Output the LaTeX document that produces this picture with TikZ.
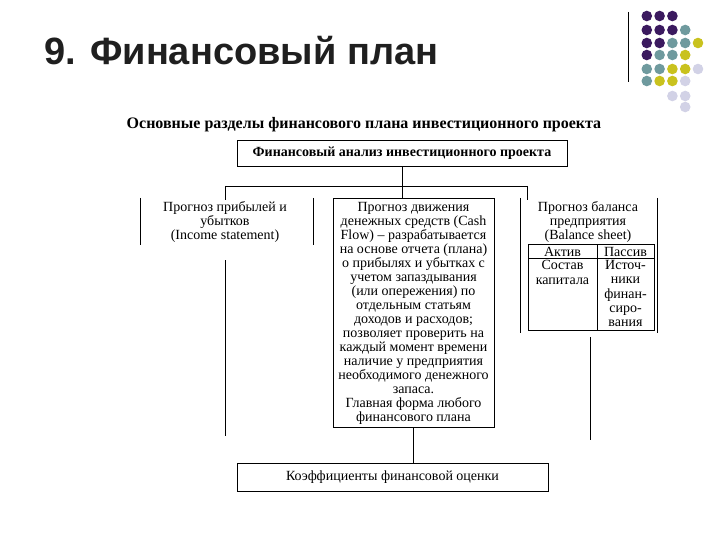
\documentclass[tikz,border=0pt]{standalone}
\usepackage{fontspec}
\setmainfont{Liberation Serif}
\newfontfamily\titlefont{Liberation Sans}
\begin{document}
\begin{tikzpicture}[x=1pt,y=-1pt,line width=0.9pt,
  txt/.style={font=\fontsize{14}{14.3}\selectfont,align=center,inner sep=0pt},
  bx/.style={draw,minimum height=0pt,inner sep=0pt},
  ]
\definecolor{dP}{HTML}{3B1A5F}
\definecolor{dT}{HTML}{6F9A9E}
\definecolor{dY}{HTML}{C9C21E}
\definecolor{dL}{HTML}{D2D2E6}
\useasboundingbox (0,0) rectangle (720,540);
% decoration
\draw[line width=1pt] (628,12) -- (628,82);
\foreach \r/\lst in {16/{1/P,2/P,3/P},30/{1/P,2/P,3/P,4/T},43/{1/P,2/P,3/T,4/T,5/Y},55/{1/P,2/T,3/T,4/Y},69/{1/T,2/T,3/Y,4/Y,5/L},81/{1/T,2/Y,3/Y,4/L},96/{3/L,4/L},107/{4/L}}{
  \foreach \c/\k in \lst { \fill[d\k] ({634+12.8*\c},\r) circle (5.3pt); }
}
\node[anchor=base west,inner sep=0pt,font=\titlefont\bfseries\fontsize{38}{40}\selectfont,text=black!88] (title) at (44,65) {9. Финансовый план};
\node[txt,font=\bfseries\fontsize{16}{18}\selectfont] (head) at (364,125) {Основные разделы финансового плана инвестиционного проекта};
\node[bx,minimum width=330,minimum height=26,txt,font=\bfseries\fontsize{14}{16}\selectfont] (top) at (402,153) {Финансовый анализ инвестиционного проекта};
\coordinate (j) at (402,186);
\coordinate (jl) at (225,186);
\coordinate (jr) at (527,186);
\draw (top.south) -- (j);
\draw (jl) -- (jr);
% left
\draw (140,198) -- (140,245) (313,198) -- (313,245);
\coordinate (l0) at (225,200);
\draw (jl) -- (l0);
\node[txt] (ltext) at (225,222) {Прогноз прибылей и\\убытков\\(Income statement)};
\coordinate (l1) at (225,260); \coordinate (l2) at (225,436);
\draw (l1) -- (l2);
% middle
\node[bx,minimum width=161,minimum height=229,txt] (mid) at (413.5,312.5) {};
\node[txt,font=\fontsize{14}{14}\selectfont] (mtext) at (413.5,313.5) {Прогноз движения\\денежных средств (Cash\\Flow) – разрабатывается\\на основе отчета (плана)\\о прибылях и убытках с\\учетом запаздывания\\(или опережения) по\\отдельным статьям\\доходов и расходов;\\позволяет проверить на\\каждый момент времени\\наличие у предприятия\\необходимого денежного\\запаса.\\Главная форма любого\\финансового плана};
\coordinate (mtop) at (402,198);
\draw (j) -- (mtop);
\node[bx,minimum width=311,minimum height=28,txt] (bot) at (392.5,477) {Коэффициенты финансовой оценки};
\draw (413.5,427) -- (413.5,463);
% right
\draw (520,198) -- (520,333) (657,198) -- (657,333);
\coordinate (r0) at (527,200);
\draw (jr) -- (r0);
\node[txt] (rtext) at (588,222) {Прогноз баланса\\предприятия\\(Balance sheet)};
\draw[line width=0.8pt] (528,244) rectangle (654,330) (528,258) -- (654,258) (597,244) -- (597,330);
\node[txt] (a) at (562.5,251.5) {Актив};
\node[txt] (p) at (625.5,251.5) {Пассив};
\node[txt,anchor=north] (sk) at (562.5,260) {Состав\\капитала};
\node[txt,anchor=north] (ist) at (625.5,260) {Источ-\\ники\\финан-\\сиро-\\вания};
\coordinate (r1) at (590,337); \coordinate (r2) at (590,440);
\draw (r1) -- (r2);
\end{tikzpicture}
\end{document}
